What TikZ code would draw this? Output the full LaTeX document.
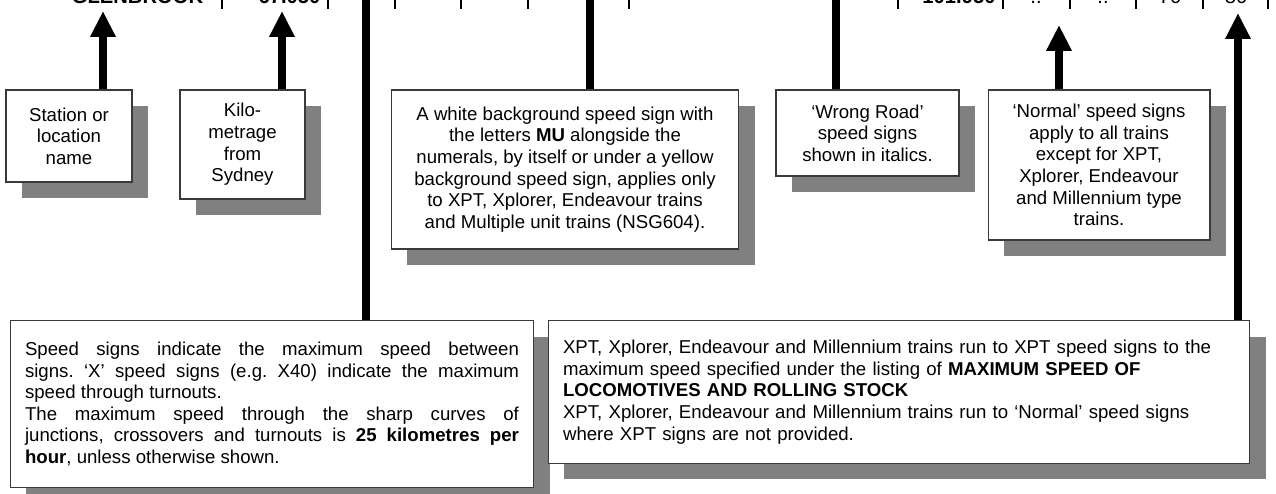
\documentclass[tikz,border=0pt]{standalone}
\usepackage{fontspec}
\setmainfont{Liberation Sans}
\usetikzlibrary{arrows.meta,shadows}
\definecolor{SSGrey}{HTML}{808080}
\definecolor{SSEdge}{HTML}{3A3A3A}

\begin{document}
\begin{tikzpicture}[x=0.02cm,y=-0.02cm,
  note/.style={draw=SSEdge,line width=0.6pt,fill=white,
    general shadow={fill=SSGrey,shadow xshift=0.32cm,shadow yshift=-0.32cm},
    align=center,inner sep=0pt,font=\fontsize{10.6}{12.3}\selectfont\frenchspacing},
  colhead/.style={anchor=base,font=\fontsize{11.5}{13}\selectfont\bfseries},
  colval/.style={anchor=base,font=\fontsize{11.5}{13}\selectfont},
  stem/.style={line width=5pt},
  pointer/.style={line width=5pt,-{Triangle[width=0.48cm,length=0.52cm]}}]
  \useasboundingbox (0,0) rectangle (1276,494);

  % table row, cut off at the top
  \node[colhead] (glen) at (137.5,3) {GLENBROOK};
  \node[colhead] (km) at (289.5,3) {67.050};
  \node[colhead] (kmb) at (959,3) {101.950};
  \node[colval] (dotsa) at (1036,3) {..};
  \node[colval] (dotsb) at (1103,3) {..};
  \node[colval] (seventy) at (1170,3) {70};
  \node[colval] (eighty) at (1236,3) {80};
  \foreach \sx in {222,328,395,461,528,629,898,1003,1070,1136,1203,1268}
    \draw[line width=0.8pt] (\sx,-3) -- (\sx,9);

  \coordinate (tipStation) at (103,11);
  \coordinate (tipKm) at (282,11);
  \coordinate (topLimits) at (366,-5);
  \coordinate (topMU) at (590,-5);
  \coordinate (topWrong) at (836,-5);
  \coordinate (tipNormal) at (1059,25);
  \coordinate (tipXpt) at (1238,13);

  % explanation boxes
  \node[note,minimum width=2.52cm,minimum height=1.84cm] (station) at (69,136)
    {Station or\\location\\name};
  \node[note,minimum width=2.5cm,minimum height=2.18cm] (kilo) at (242.5,144.5)
    {Kilo-\\metrage\\from\\Sydney};
  \node[note,minimum width=6.96cm,minimum height=3.18cm] (mu) at (565,169.5)
    {A white background speed sign with\\the letters \textbf{MU} alongside the\\numerals, by itself or under a yellow\\background speed sign, applies only\\to XPT, Xplorer, Endeavour trains\\and Multiple unit trains (NSG604).};
  \node[note,minimum width=3.66cm,minimum height=1.72cm] (wrong) at (867.5,133)
    {‘Wrong Road’\\speed signs\\shown in italics.};
  \node[note,minimum width=4.44cm,minimum height=3.0cm] (normal) at (1099,165)
    {‘Normal’ speed signs\\apply to all trains\\except for XPT,\\Xplorer, Endeavour\\and Millennium type\\trains.};
  \node[note,align=justify,text width=9.88cm,inner xsep=0.3cm,minimum height=3.34cm] (limits) at (272,404)
    {Speed signs indicate the maximum speed between\linebreak signs. ‘X’ speed signs (e.g. X40) indicate the maximum\linebreak speed through turnouts.\\The maximum speed through the sharp curves of\linebreak junctions, crossovers and turnouts is \textbf{25 kilometres per}\linebreak \textbf{hour}, unless otherwise shown.};
  \node[note,align=left,text width=13.44cm,inner xsep=0.3cm,minimum height=2.86cm] (xpt) at (899,392)
    {XPT, Xplorer, Endeavour and Millennium trains run to XPT speed signs to the\\maximum speed specified under the listing of \textbf{MAXIMUM SPEED OF}\\\textbf{LOCOMOTIVES AND ROLLING STOCK}\\XPT, Xplorer, Endeavour and Millennium trains run to ‘Normal’ speed signs\\where XPT signs are not provided.};

  % connectors
  \draw[pointer] (station.north -| tipStation) -- (tipStation);
  \draw[pointer] (kilo.north -| tipKm) -- (tipKm);
  \draw[stem] (limits.north -| topLimits) -- (topLimits);
  \draw[stem] (mu.north -| topMU) -- (topMU);
  \draw[stem] (wrong.north -| topWrong) -- (topWrong);
  \draw[pointer] (normal.north -| tipNormal) -- (tipNormal);
  \draw[pointer] (xpt.north -| tipXpt) -- (tipXpt);
\end{tikzpicture}
\end{document}
